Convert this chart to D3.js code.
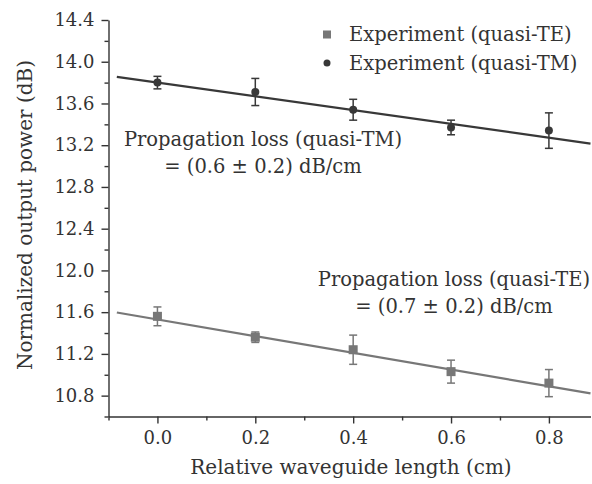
<!DOCTYPE html>
<html>
<head>
<meta charset="utf-8">
<script src="https://cdn.jsdelivr.net/npm/d3@7"></script>
<style>
  body { margin: 0; background: #fff; }
  svg text { font-family: "DejaVu Serif", serif; fill: #333; }
  .axis path, .axis line { stroke: #333; stroke-width: 1.4; }
</style>
</head>
<body>
<div id="chart"></div>
<script>
// data
var lengths = [0, 0.2, 0.4, 0.6, 0.8];
var teValues = [11.56, 11.36, 11.24, 11.03, 10.92];
var teErrors = [0.09, 0.05, 0.14, 0.11, 0.13];
var tmValues = [13.80, 13.71, 13.54, 13.37, 13.34];
var tmErrors = [0.06, 0.13, 0.10, 0.07, 0.17];

// linear fits: intercept, slope
var teFit = [11.53, -0.80];
var tmFit = [13.80, -0.66];
var fitRange = [-0.083, 0.885];

var xTicks = [0, 0.2, 0.4, 0.6, 0.8];
var xMinor = [-0.1, 0.1, 0.3, 0.5, 0.7];
var yTicks = [10.8, 11.2, 11.6, 12.0, 12.4, 12.8, 13.2, 13.6, 14.0, 14.4];
var yMinor = [10.6, 11.0, 11.4, 11.8, 12.2, 12.6, 13.0, 13.4, 13.8, 14.2];

var legendLabels = ["Experiment (quasi-TE)", "Experiment (quasi-TM)"];
var tmNote = ["Propagation loss (quasi-TM)", "= (0.6 \u00b1 0.2) dB/cm"];
var teNote = ["Propagation loss (quasi-TE)", "= (0.7 \u00b1 0.2) dB/cm"];

var teColour = "#777777";
var tmColour = "#383838";

var width = 592, height = 484;

var svg = d3.select("#chart").append("svg")
    .attr("width", width)
    .attr("height", height);

var x = d3.scaleLinear().domain([-0.1, 0.885]).range([108.5, 590.5]);
var y = d3.scaleLinear().domain([10.6, 14.4]).range([416.5, 20]);

var tickFs = 18, labelFs = 19.5, titleFs = 20;

// minor ticks first
svg.append("g").attr("class", "axis")
    .attr("transform", "translate(0," + y(10.6) + ")")
    .call(d3.axisBottom(x).tickValues(xMinor).tickSize(4).tickFormat(""))
    .select(".domain").remove();
svg.append("g").attr("class", "axis")
    .attr("transform", "translate(" + x(-0.1) + ",0)")
    .call(d3.axisLeft(y).tickValues(yMinor).tickSize(4).tickFormat(""))
    .select(".domain").remove();

// main axes
var xAxis = svg.append("g").attr("class", "axis")
    .attr("transform", "translate(0," + y(10.6) + ")")
    .call(d3.axisBottom(x).tickValues(xTicks).tickSize(7).tickSizeOuter(0).tickPadding(8)
        .tickFormat(d3.format(".1f")));
xAxis.selectAll("text").style("font-size", tickFs + "px");

var yAxis = svg.append("g").attr("class", "axis")
    .attr("transform", "translate(" + x(-0.1) + ",0)")
    .call(d3.axisLeft(y).tickValues(yTicks).tickSize(7).tickSizeOuter(0).tickPadding(7)
        .tickFormat(d3.format(".1f")));
yAxis.selectAll("text").style("font-size", tickFs + "px");

// axis titles
svg.append("text")
    .attr("x", 351).attr("y", 474)
    .attr("text-anchor", "middle")
    .style("font-size", titleFs + "px")
    .text("Relative waveguide length (cm)");

svg.append("text")
    .attr("transform", "translate(32,215) rotate(-90)")
    .attr("text-anchor", "middle")
    .style("font-size", titleFs + "px")
    .text("Normalized output power (dB)");

// fit lines
var drawFit = function (fit, colour) {
    svg.append("line")
        .attr("x1", x(fitRange[0])).attr("y1", y(fit[0] + fit[1] * fitRange[0]))
        .attr("x2", x(fitRange[1])).attr("y2", y(fit[0] + fit[1] * fitRange[1]))
        .attr("stroke", colour)
        .attr("stroke-width", 2.2);
};
drawFit(tmFit, tmColour);
drawFit(teFit, teColour);

// error bars
var drawErrors = function (values, errors, colour) {
    var g = svg.append("g")
        .attr("stroke", colour)
        .attr("stroke-width", 1.5);
    lengths.forEach(function (d, i) {
        var lo = y(values[i] - errors[i]), hi = y(values[i] + errors[i]);
        g.append("line").attr("x1", x(d)).attr("x2", x(d)).attr("y1", lo).attr("y2", hi);
        g.append("line").attr("x1", x(d) - 4).attr("x2", x(d) + 4).attr("y1", lo).attr("y2", lo);
        g.append("line").attr("x1", x(d) - 4).attr("x2", x(d) + 4).attr("y1", hi).attr("y2", hi);
    });
};
drawErrors(teValues, teErrors, teColour);
drawErrors(tmValues, tmErrors, tmColour);

// markers
svg.selectAll(".te")
    .data(teValues)
    .enter()
    .append("rect")
    .attr("class", "te")
    .attr("x", function (d, i) { return x(lengths[i]) - 4.5; })
    .attr("y", function (d) { return y(d) - 4.5; })
    .attr("width", 9).attr("height", 9)
    .attr("fill", teColour);

svg.selectAll(".tm")
    .data(tmValues)
    .enter()
    .append("circle")
    .attr("class", "tm")
    .attr("cx", function (d, i) { return x(lengths[i]); })
    .attr("cy", function (d) { return y(d); })
    .attr("r", 4)
    .attr("fill", tmColour);

// legend
var legend = svg.append("g").attr("transform", "translate(327,0)");
legend.append("rect")
    .attr("x", -4).attr("y", 30.5)
    .attr("width", 8).attr("height", 8)
    .attr("fill", teColour);
legend.append("circle")
    .attr("cx", 0).attr("cy", 63)
    .attr("r", 3.5)
    .attr("fill", tmColour);
legend.selectAll(".lbl")
    .data(legendLabels)
    .enter()
    .append("text")
    .attr("class", "lbl")
    .attr("x", 22)
    .attr("y", function (d, i) { return 41 + i * 28.5; })
    .style("font-size", labelFs + "px")
    .text(function (d) { return d; });

// annotations
var note = function (lines, cx, y0) {
    svg.selectAll(null)
        .data(lines)
        .enter()
        .append("text")
        .attr("x", cx)
        .attr("y", function (d, i) { return y0 + i * 27; })
        .attr("text-anchor", "middle")
        .style("font-size", labelFs + "px")
        .text(function (d) { return d; });
};
note(tmNote, 263, 146);
note(teNote, 454, 286);
</script>
</body>
</html>
